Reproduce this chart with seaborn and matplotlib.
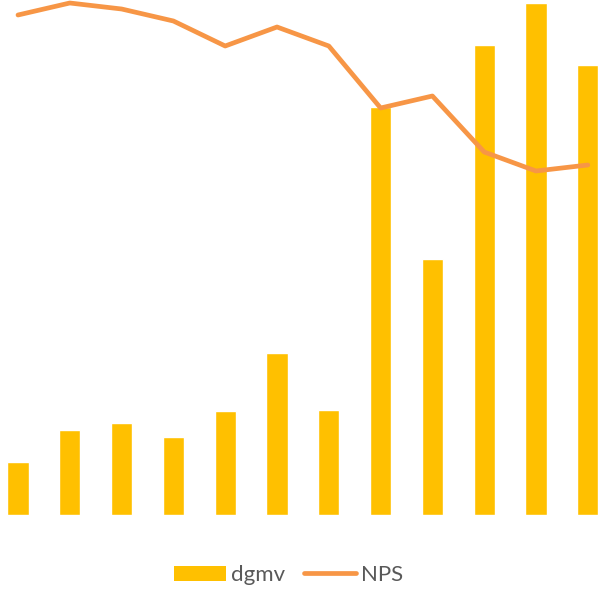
import matplotlib
matplotlib.use("Agg")
import matplotlib.pyplot as plt
import seaborn as sns
import pandas as pd
import numpy as np
from matplotlib.patches import Patch
from matplotlib.lines import Line2D

categories = [f"C{i+1}" for i in range(12)]
dgmv = [53, 85, 92, 78, 104, 162, 105, 408, 256, 470, 512, 450]
nps = [500, 512, 506, 494, 469, 488, 469, 407, 419, 363, 344, 350]

sns.set_theme(style="white")
plt.rcParams['font.family'] = ['Lato', 'DejaVu Sans']

fig = plt.figure(figsize=(6.08, 5.91), dpi=100)
ax = fig.add_axes([0, 76/591, 1, 515/591])

df = pd.DataFrame({"cat": categories, "dgmv": dgmv, "nps": nps})
sns.barplot(data=df, x="cat", y="dgmv", color="#FFC000", saturation=1,
            width=0.41, ax=ax)
sns.lineplot(x=np.arange(len(categories)), y=df["nps"], color="#F79646",
             linewidth=3.4, ax=ax, solid_capstyle="round")

scale = 51.8
xmin = -18 / scale
ax.set_xlim(xmin, xmin + 608 / scale)
ax.set_ylim(0, 515)
ax.axis("off")

handles = [Patch(facecolor="#FFC000", edgecolor="none"),
           Line2D([0], [0], color="#F79646", linewidth=3.4, solid_capstyle="round")]
fig.legend(handles, ["dgmv", "NPS"], loc="center", ncol=2,
           bbox_to_anchor=(0.474, 0.027), frameon=False, fontsize=16,
           handlelength=2.35, handleheight=0.68, handletextpad=0.22,
           columnspacing=0.85, labelcolor="#595959")

fig.savefig("out.png", dpi=100)
